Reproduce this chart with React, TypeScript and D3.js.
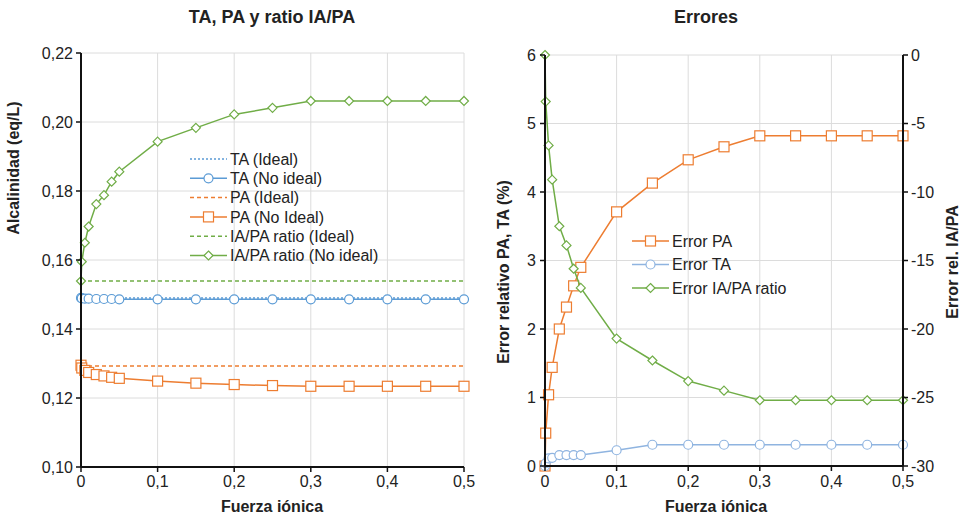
import * as d3 from "d3";

const fuerza = [0, 0.001, 0.005, 0.01, 0.02, 0.03, 0.04, 0.05, 0.1, 0.15, 0.2, 0.25, 0.3, 0.35, 0.4, 0.45, 0.5];

const taIdeal = [0.149, 0.149, 0.149, 0.149, 0.149, 0.149, 0.149, 0.149, 0.149, 0.149, 0.149, 0.149, 0.149, 0.149, 0.149, 0.149, 0.149];
const taNoIdeal = [0.149, 0.1489, 0.1488, 0.1488, 0.1487, 0.1487, 0.1487, 0.1486, 0.1486, 0.1486, 0.1486, 0.1486, 0.1486, 0.1486, 0.1486, 0.1486, 0.1486];
const paIdeal = [0.1293, 0.1293, 0.1293, 0.1293, 0.1293, 0.1293, 0.1293, 0.1293, 0.1293, 0.1293, 0.1293, 0.1293, 0.1293, 0.1293, 0.1293, 0.1293, 0.1293];
const paNoIdeal = [0.1295, 0.1287, 0.128, 0.1274, 0.1268, 0.1264, 0.126, 0.1257, 0.1249, 0.1243, 0.1239, 0.1236, 0.1234, 0.1234, 0.1234, 0.1234, 0.1234];
const ratioIdeal = [0.1539, 0.1539, 0.1539, 0.1539, 0.1539, 0.1539, 0.1539, 0.1539, 0.1539, 0.1539, 0.1539, 0.1539, 0.1539, 0.1539, 0.1539, 0.1539, 0.1539];
const ratioNoIdeal = [0.1539, 0.1595, 0.165, 0.1697, 0.1762, 0.1788, 0.1827, 0.1856, 0.1943, 0.1983, 0.2022, 0.2041, 0.2061, 0.2061, 0.2061, 0.2061, 0.2061];

const errorPA = [0, 0.48, 1.04, 1.44, 2.0, 2.32, 2.63, 2.9, 3.71, 4.13, 4.47, 4.66, 4.82, 4.82, 4.82, 4.82, 4.82];
const errorTA = [0, 0.04, 0.11, 0.12, 0.16, 0.16, 0.16, 0.16, 0.23, 0.31, 0.31, 0.31, 0.31, 0.31, 0.31, 0.31, 0.31];
const errorRatio = [0, -3.4, -6.6, -9.1, -12.5, -13.9, -15.6, -17.0, -20.7, -22.3, -23.8, -24.5, -25.2, -25.2, -25.2, -25.2, -25.2];

const xTicks = [0, 0.1, 0.2, 0.3, 0.4, 0.5];
const alcTicks = [0.1, 0.12, 0.14, 0.16, 0.18, 0.2, 0.22];
const errTicks = [0, 1, 2, 3, 4, 5, 6];
const err2Ticks = [0, -5, -10, -15, -20, -25, -30];

const ORANGE = "#ED7D31";
const BLUE = "#5B9BD5";
const BLUE_LIGHT = "#8FB4E0";
const GREEN = "#70AD47";
const GRID = "#dcdcdc";
const FONT = "'Liberation Sans', Arial, sans-serif";

const comma = (v: number, f: string) => d3.format(f)(v).replace(".", ",");
const fmtX = (v: number) => (v === 0 ? "0" : comma(v, ".1f"));

type Marker = "circle" | "square" | "diamond" | "none";

function Mark({ type, x, y, color }: { type: Marker; x: number; y: number; color: string }) {
  if (type === "circle") return <circle cx={x} cy={y} r={4.5} fill="white" stroke={color} strokeWidth={1.2} />;
  if (type === "square") return <rect x={x - 5} y={y - 5} width={10} height={10} fill="white" stroke={color} strokeWidth={1.2} />;
  if (type === "diamond")
    return <path d={`M${x},${y - 4.5}L${x + 4.5},${y}L${x},${y + 4.5}L${x - 4.5},${y}Z`} fill="white" stroke={color} strokeWidth={1.2} />;
  return null;
}

function Series({ xs, ys, x, y, color, dash, marker }: any) {
  const line = d3
    .line<number>()
    .x((_, i) => x(xs[i]))
    .y((d) => y(d));
  return (
    <g>
      <path d={line(ys) || ""} fill="none" stroke={color} strokeWidth={1.5} strokeDasharray={dash} />
      {marker !== "none" && ys.map((v: number, i: number) => <Mark key={i} type={marker} x={x(xs[i])} y={y(v)} color={color} />)}
    </g>
  );
}

function LegendRow({ x, y, color, dash, marker, label }: any) {
  return (
    <g>
      <line x1={x} x2={x + 37} y1={y} y2={y} stroke={color} strokeWidth={1.5} strokeDasharray={dash} />
      <Mark type={marker} x={x + 18.5} y={y} color={color} />
      <text x={x + 40} y={y} dy="0.35em" fontSize={16} fill="#222">
        {label}
      </text>
    </g>
  );
}

export default function App() {
  // left chart
  const xL = d3.scaleLinear().domain([0, 0.5]).range([81, 464]);
  const yL = d3.scaleLinear().domain([0.1, 0.22]).range([467, 53]);
  // right chart
  const xR = d3.scaleLinear().domain([0, 0.5]).range([545, 903]);
  const yR = d3.scaleLinear().domain([0, 6]).range([466, 55]);
  const yR2 = d3.scaleLinear().domain([-30, 0]).range([466, 55]);

  const leftSeries = [
    { ys: taIdeal, color: BLUE, dash: "2,2", marker: "none", label: "TA (Ideal)" },
    { ys: taNoIdeal, color: BLUE, dash: undefined, marker: "circle", label: "TA (No ideal)" },
    { ys: paIdeal, color: ORANGE, dash: "4,3", marker: "none", label: "PA (Ideal)" },
    { ys: paNoIdeal, color: ORANGE, dash: undefined, marker: "square", label: "PA (No Ideal)" },
    { ys: ratioIdeal, color: GREEN, dash: "4,3", marker: "none", label: "IA/PA ratio (Ideal)" },
    { ys: ratioNoIdeal, color: GREEN, dash: undefined, marker: "diamond", label: "IA/PA ratio (No ideal)" },
  ];

  const rightSeries = [
    { ys: errorPA, y: yR, color: ORANGE, marker: "square", label: "Error PA" },
    { ys: errorTA, y: yR, color: BLUE_LIGHT, marker: "circle", label: "Error TA" },
    { ys: errorRatio, y: yR2, color: GREEN, marker: "diamond", label: "Error IA/PA ratio" },
  ];

  return (
    <svg width={966} height={519} style={{ position: "absolute", left: 0, top: 0, background: "white" }} fontFamily={FONT}>
      {/* ---- left chart ---- */}
      <g>
        {alcTicks.slice(1).map((t) => (
          <line key={t} x1={xL(0)} x2={xL(0.5)} y1={yL(t)} y2={yL(t)} stroke={GRID} />
        ))}
        {xTicks.slice(1).map((t) => (
          <line key={t} x1={xL(t)} x2={xL(t)} y1={yL(0.1)} y2={yL(0.22)} stroke={GRID} />
        ))}
        {leftSeries.map((s, i) => (
          <Series key={i} xs={fuerza} ys={s.ys} x={xL} y={yL} color={s.color} dash={s.dash} marker={s.marker} />
        ))}
        <line x1={xL(0)} x2={xL(0)} y1={yL(0.1)} y2={yL(0.22)} stroke="#111" strokeWidth={2} />
        <line x1={xL(0)} x2={xL(0.5)} y1={yL(0.1)} y2={yL(0.1)} stroke="#111" strokeWidth={2} />
        {alcTicks.map((t) => (
          <g key={t}>
            <line x1={xL(0) - 5} x2={xL(0)} y1={yL(t)} y2={yL(t)} stroke="#111" strokeWidth={1.5} />
            <text x={xL(0) - 8} y={yL(t)} dy="0.35em" textAnchor="end" fontSize={16} fill="#222">
              {comma(t, ".2f")}
            </text>
          </g>
        ))}
        {xTicks.map((t) => (
          <g key={t}>
            <line x1={xL(t)} x2={xL(t)} y1={yL(0.1)} y2={yL(0.1) + 5} stroke="#111" strokeWidth={1.5} />
            <text x={xL(t)} y={yL(0.1) + 20} textAnchor="middle" fontSize={16} fill="#222">
              {fmtX(t)}
            </text>
          </g>
        ))}
        <text x={272} y={23} textAnchor="middle" fontSize={18} fontWeight="bold" fill="#222">
          TA, PA y ratio IA/PA
        </text>
        <text x={272} y={512} textAnchor="middle" fontSize={16} fontWeight="bold" fill="#222">
          Fuerza iónica
        </text>
        <text transform="translate(19,168) rotate(-90)" textAnchor="middle" fontSize={16} fontWeight="bold" fill="#222">
          Alcalinidad  (eq/L)
        </text>
        {leftSeries.map((s, i) => (
          <LegendRow key={i} x={190} y={159 + i * 19.3} color={s.color} dash={s.dash} marker={s.marker} label={s.label} />
        ))}
      </g>

      {/* ---- right chart ---- */}
      <g>
        {errTicks.slice(1).map((t) => (
          <line key={t} x1={xR(0)} x2={xR(0.5)} y1={yR(t)} y2={yR(t)} stroke={GRID} />
        ))}
        {xTicks.slice(1, -1).map((t) => (
          <line key={t} x1={xR(t)} x2={xR(t)} y1={yR(0)} y2={yR(6)} stroke={GRID} />
        ))}
        {rightSeries.map((s, i) => (
          <Series key={i} xs={fuerza} ys={s.ys} x={xR} y={s.y} color={s.color} marker={s.marker} />
        ))}
        <line x1={xR(0)} x2={xR(0)} y1={yR(0)} y2={yR(6)} stroke="#111" strokeWidth={2} />
        <line x1={xR(0.5)} x2={xR(0.5)} y1={yR(0)} y2={yR(6)} stroke="#111" strokeWidth={2} />
        <line x1={xR(0)} x2={xR(0.5)} y1={yR(0)} y2={yR(0)} stroke="#111" strokeWidth={2} />
        {errTicks.map((t) => (
          <g key={t}>
            <line x1={xR(0) - 5} x2={xR(0)} y1={yR(t)} y2={yR(t)} stroke="#111" strokeWidth={1.5} />
            <text x={xR(0) - 9} y={yR(t)} dy="0.35em" textAnchor="end" fontSize={16} fill="#222">
              {t}
            </text>
          </g>
        ))}
        {err2Ticks.map((t) => (
          <g key={t}>
            <line x1={xR(0.5)} x2={xR(0.5) + 5} y1={yR2(t)} y2={yR2(t)} stroke="#111" strokeWidth={1.5} />
            <text x={xR(0.5) + 8} y={yR2(t)} dy="0.35em" textAnchor="start" fontSize={16} fill="#222">
              {t}
            </text>
          </g>
        ))}
        {xTicks.map((t) => (
          <g key={t}>
            <line x1={xR(t)} x2={xR(t)} y1={yR(0)} y2={yR(0) + 5} stroke="#111" strokeWidth={1.5} />
            <text x={xR(t)} y={yR(0) + 21} textAnchor="middle" fontSize={16} fill="#222">
              {fmtX(t)}
            </text>
          </g>
        ))}
        <text x={706} y={23} textAnchor="middle" fontSize={18} fontWeight="bold" fill="#222">
          Errores
        </text>
        <text x={716} y={512} textAnchor="middle" fontSize={16} fontWeight="bold" fill="#222">
          Fuerza iónica
        </text>
        <text transform="translate(509,272) rotate(-90)" textAnchor="middle" fontSize={16} fontWeight="bold" fill="#222">
          Error relativo  PA, TA (%)
        </text>
        <text transform="translate(958,262) rotate(-90)" textAnchor="middle" fontSize={16} fontWeight="bold" fill="#222">
          Error rel. IA/PA
        </text>
        {rightSeries.map((s, i) => (
          <LegendRow key={i} x={632} y={241 + i * 23.5} color={s.color} marker={s.marker} label={s.label} />
        ))}
      </g>
    </svg>
  );
}
